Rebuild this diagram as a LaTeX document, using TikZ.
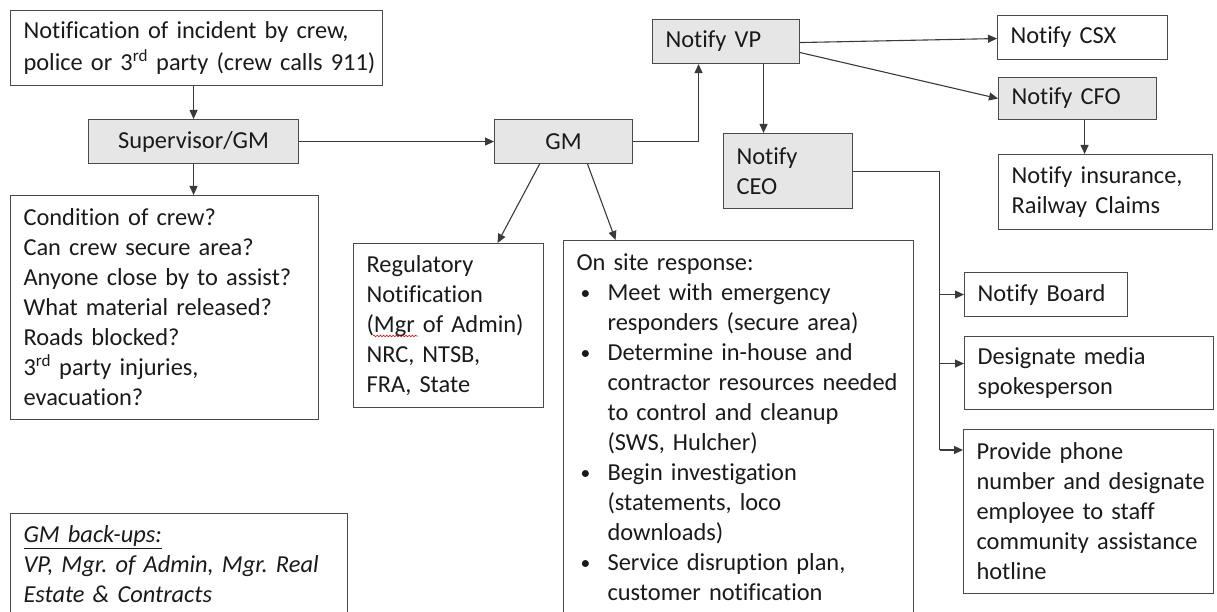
\documentclass[tikz,border=0pt]{standalone}
\usepackage{fontspec}
\setmainfont{Carlito}[Ligatures={NoCommon}]
\usetikzlibrary{arrows.meta,decorations.pathmorphing,calc}
\definecolor{bordc}{HTML}{4A4A4A}
\definecolor{linec}{HTML}{3A3A3A}
\definecolor{grayc}{HTML}{E6E6E6}
\definecolor{txtc}{HTML}{1A1A1A}
\newcommand{\bul}{\hspace*{4pt}\makebox[27pt][l]{\raisebox{1pt}{\scalebox{0.8}{\textbullet}}}}
\newcommand{\ind}{\hspace*{31pt}}
\begin{document}
\frenchspacing
\begin{tikzpicture}[x=1pt,y=-1pt,
  box/.style={draw=bordc, line width=1.1pt, anchor=north west, inner xsep=13pt, inner ysep=0pt,
    align=left, font=\fontsize{24.4}{30}\selectfont, text=txtc},
  gbox/.style={box, fill=grayc},
  arr/.style={draw=linec, line width=1.1pt, -{Triangle[length=9pt,width=8pt]}},
  ln/.style={draw=linec, line width=1.1pt}]
\useasboundingbox (0,0) rectangle (1217,612);
\clip (0,0) rectangle (1217,612);

\node[box, text width=346pt, minimum height=75pt, font=\fontsize{24.4}{31.5}\selectfont] (n1) at (10,10)
  {Notification of incident by crew,\\\mbox{police or 3\textsuperscript{rd} party (crew calls 911)}};
\node[gbox, align=center, text width=184pt, minimum height=44pt] (sup) at (88,119) {Supervisor/GM};
\node[box, text width=282pt, minimum height=224pt] (cond) at (10,195)
  {Condition of crew?\\Can crew secure area?\\Anyone close by to assist?\\What material released?\\Roads blocked?\\3\textsuperscript{rd} party injuries,\\evacuation?};
\node[gbox, align=center, text width=112pt, minimum height=44pt] (gm) at (494,119) {GM};
\node[gbox, text width=121pt, minimum height=44pt] (vp) at (652,19) {Notify VP};
\node[gbox, text width=103pt, minimum height=75pt] (ceo) at (723,133) {Notify\\CEO};
\node[box, text width=144pt, minimum height=44pt] (csx) at (997,15) {Notify CSX};
\node[gbox, text width=132pt, minimum height=42pt] (cfo) at (998,77) {Notify CFO};
\node[box, text width=188pt, minimum height=75pt] (ins) at (998,154) {Notify insurance,\\Railway Claims};
\node[box, text width=164pt, minimum height=164pt] (reg) at (353,243)
  {Regulatory\\Notification\\(Mgr of Admin)\\NRC, NTSB,\\FRA, State};
\node[box, text width=324pt, minimum height=374pt] (site) at (563,240)
  {On site response:\\
   \bul Meet with emergency\\\ind responders (secure area)\\
   \bul Determine in-house and\\\ind contractor resources needed\\\ind to control and cleanup\\\ind (SWS, Hulcher)\\
   \bul Begin investigation\\\ind (statements, loco\\\ind downloads)\\
   \bul Service disruption plan,\\\ind customer notification};
\node[box, text width=137pt, minimum height=44pt] (board) at (964,272) {Notify Board};
\node[box, text width=223pt, minimum height=73pt] (desig) at (964,336) {Designate media\\spokesperson};
\node[box, text width=224pt, minimum height=164pt] (prov) at (963,429)
  {Provide phone\\\mbox{number and designate}\\employee to staff\\\mbox{community assistance}\\hotline};
\node[box, text width=311pt, minimum height=102pt] (back) at (10,513)
  {\underline{\textit{GM back-ups:}}\\\textit{VP, Mgr. of Admin, Mgr. Real}\\\textit{Estate \& Contracts}};

% spell-check squiggle
\draw[red!80!black, line width=0.5pt, decorate, decoration={snake, amplitude=0.9pt, segment length=3.2pt}] (373,336) -- (418,336);

% connectors
\draw[arr] (sup.north |- n1.south) -- (sup.north);
\draw[arr] (sup.south) -- (sup.south |- cond.north);
\draw[arr] (sup.east) -- (gm.west);
\draw[arr] (gm.east) -| ([xshift=-27.5pt]vp.south);
\draw[arr] ([xshift=37.5pt]vp.south) -- ([xshift=37.5pt]vp.south |- ceo.north);
\draw[arr] ([yshift=-1pt]vp.east) -- ([yshift=-1pt]csx.west);
\draw[arr] ([yshift=-11pt]vp.east) -- (cfo.west);
\draw[arr] ([xshift=7pt]cfo.south) -- ([xshift=7pt]cfo.south |- ins.north);
\draw[arr] ([xshift=-24pt]gm.south) -- ([xshift=49pt]reg.north);
\draw[arr] ([xshift=24pt]gm.south) -- ([xshift=-123pt]site.north);

\coordinate (bus) at (939.5,171.5);
\coordinate (pa) at ([yshift=-21pt]prov.north west);
\draw[ln] (ceo.east |- bus) -- (bus) -- (bus |- pa);
\draw[arr] (bus |- board.west) -- (board.west);
\draw[arr] (bus |- {$(desig.west)+(0,-9.5)$}) -- ($(desig.west)+(0,-9.5)$);
\draw[arr] (bus |- pa) -- (pa);
\end{tikzpicture}
\end{document}
